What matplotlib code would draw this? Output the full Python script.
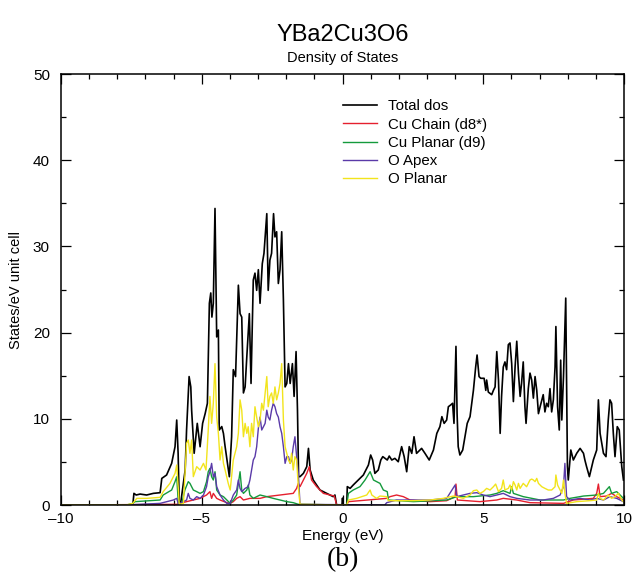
import matplotlib
matplotlib.use("Agg")
import matplotlib.pyplot as plt
from matplotlib.ticker import MultipleLocator

plt.rcParams['font.family'] = ['Liberation Sans', 'DejaVu Sans']

# ---- data (energy in eV, DOS in states/eV unit cell) ----
total_e = [-10.0, -7.67, -7.45, -7.41, -7.33, -7.19, -6.96, -6.72, -6.48, -6.42, -6.25, -6.07, -5.95, -5.89, -5.84,
           -5.80, -5.75, -5.59, -5.54, -5.45, -5.39, -5.36, -5.27, -5.16, -5.06, -4.97, -4.88, -4.80, -4.73, -4.68,
           -4.64, -4.59, -4.53, -4.47, -4.41, -4.38, -4.29, -4.23, -4.17, -4.02, -3.94, -3.88, -3.80, -3.70, -3.64,
           -3.58, -3.52, -3.46, -3.40, -3.31, -3.25, -3.17, -3.11, -3.05, -2.99, -2.93, -2.85, -2.79, -2.69, -2.64,
           -2.58, -2.52, -2.45, -2.40, -2.34, -2.28, -2.22, -2.16, -2.10, -2.04, -1.98, -1.92, -1.86, -1.78, -1.72,
           -1.65, -1.60, -1.56, -1.51, -1.39, -1.27, -1.21, -1.15, -1.04, -0.80, -0.56, -0.33, -0.27, -0.21, -0.02,
           0.00, 0.02, 0.15, 0.17, 0.27, 0.38, 0.50, 0.62, 0.74, 0.86, 0.92, 1.00, 1.07, 1.15, 1.27, 1.36, 1.43,
           1.51, 1.59, 1.66, 1.75, 1.86, 1.98, 2.10, 2.19, 2.28, 2.37, 2.46, 2.54, 2.63, 2.81, 2.93, 3.08, 3.23,
           3.35, 3.46, 3.53, 3.61, 3.70, 3.76, 3.84, 3.91, 3.96, 4.03, 4.07, 4.11, 4.17, 4.27, 4.35, 4.43, 4.53,
           4.65, 4.73, 4.78, 4.85, 4.91, 5.03, 5.09, 5.12, 5.18, 5.30, 5.36, 5.42, 5.48, 5.54, 5.60, 5.65, 5.71,
           5.77, 5.83, 5.89, 5.95, 6.01, 6.07, 6.13, 6.19, 6.25, 6.31, 6.36, 6.42, 6.48, 6.52, 6.60, 6.66, 6.72,
           6.78, 6.84, 6.90, 6.96, 7.02, 7.13, 7.19, 7.25, 7.31, 7.37, 7.43, 7.49, 7.55, 7.58, 7.64, 7.70, 7.75,
           7.79, 7.85, 7.93, 7.99, 8.02, 8.11, 8.20, 8.32, 8.44, 8.56, 8.61, 8.67, 8.77, 8.91, 9.03, 9.09, 9.15,
           9.27, 9.36, 9.44, 9.50, 9.56, 9.62, 9.68, 9.76, 9.83, 9.92, 9.98]
total_dos = [0.0, 0.0, 0.0, 1.35, 1.16, 1.27, 1.16, 1.35, 1.43, 3.09, 3.48, 4.83, 6.76, 9.86, 6.0,
             0.19, 0.19, 4.06, 8.7, 14.9, 13.7, 11.0, 6.0, 9.47, 6.76, 9.47, 10.6, 11.8, 23.4, 24.6,
             21.8, 23.4, 34.4, 19.5, 20.3, 8.7, 9.1, 8.3, 6.76, 3.28, 7.9, 15.7, 14.9, 25.5, 22.2,
             21.8, 13.0, 13.7, 17.2, 22.2, 14.1, 26.1, 26.9, 24.9, 27.3, 23.4, 28.0, 29.2, 33.8, 24.9,
             28.4, 29.2, 33.8, 31.1, 31.7, 25.7, 27.3, 31.7, 23.8, 13.7, 14.1, 16.4, 14.1, 16.4, 12.6,
             17.8, 11.0, 3.28, 3.29, 3.67, 4.45, 6.57, 4.06, 2.9, 1.74, 1.35, 0.97, 1.16, 0.0, 0.0,
             0.8, 0.0, 0.0, 2.13, 1.93, 2.32, 2.71, 3.09, 3.48, 4.25, 4.64, 5.80, 5.22, 3.67, 4.06, 5.22, 5.61,
             5.41, 5.22, 5.68, 5.22, 5.41, 5.02, 6.77, 5.61, 3.86, 6.77, 5.99, 7.92, 5.99, 6.57, 5.99, 5.22, 6.38,
             8.31, 9.09, 10.25, 9.47, 9.86, 11.4, 11.6, 11.8, 9.47, 18.4, 10.6, 6.77, 5.80, 6.38, 7.92, 9.47, 10.25,
             13.3, 16.0, 17.4, 14.9, 14.7, 14.7, 13.3, 14.5, 13.1, 12.8, 13.3, 13.7, 17.8, 14.5, 8.31, 12.6, 16.0,
             16.6, 15.7, 18.6, 18.8, 16.4, 12.0, 16.0, 19.0, 15.3, 12.6, 14.1, 16.6, 11.4, 9.47, 13.5, 15.3, 14.5,
             12.4, 14.9, 13.3, 10.6, 11.4, 12.8, 10.8, 11.8, 11.4, 13.5, 10.8, 12.2, 16.0, 20.7, 11.4, 8.70, 16.8,
             9.86, 14.9, 24.0, 4.45, 2.90, 6.38, 5.22, 6.0, 6.57, 6.0, 5.22, 4.45, 3.29, 5.22, 6.38, 12.2, 8.31,
             6.0, 5.61, 9.86, 12.2, 11.8, 8.31, 5.61, 9.09, 8.70, 4.45, 2.90]

cu_chain_e = [-10.0, -5.89, -5.54, -5.30, -5.06, -4.83, -4.71, -4.65, -4.59, -4.47, -4.35, -4.11, -3.99, -3.88,
              -3.76, -3.64, -3.52, -3.29, -2.93, -2.69, -2.22, -1.75, -1.63, -1.57, -1.51, -1.39, -1.27, -1.18,
              -1.10, -0.92, -0.68, -0.44, -0.29, -0.21, 0.15, 0.21, 1.57, 1.69, 1.92, 2.16, 2.40, 3.11, 3.70,
              4.00, 4.03, 4.08, 4.88, 5.48, 5.71, 6.19, 6.66, 7.85, 8.20, 8.91, 9.03, 9.09, 9.15, 9.38, 9.56,
              9.74, 9.98]
cu_chain_dos = [0.0, 0.08, 0.39, 0.58, 0.77, 1.16, 1.55, 0.77, 1.35, 0.77, 0.58, 0.27, 0.19, 0.39,
                0.77, 0.97, 0.58, 0.77, 0.77, 0.97, 1.16, 1.35, 1.93, 2.51, 2.13, 2.90, 3.67, 4.45,
                2.90, 2.13, 1.35, 1.16, 1.04, 0.0, 0.0, 0.39, 0.77, 0.97, 1.16, 0.97, 0.58, 0.39, 0.50,
                0.97, 2.43, 0.58, 0.39, 0.58, 0.77, 0.58, 0.27, 0.19, 0.58, 0.77, 1.35, 2.43, 0.97, 1.04, 1.35,
                0.97, 0.58]

cu_planar_e = [-10.0, -7.67, -7.45, -7.37, -6.48, -6.37, -6.07, -5.95, -5.89, -5.83, -5.71, -5.60, -5.48, -5.42,
               -5.36, -5.30, -5.18, -5.06, -4.94, -4.83, -4.77, -4.71, -4.65, -4.59, -4.53, -4.47, -4.35, -4.23,
               -4.11, -3.99, -3.88, -3.76, -3.70, -3.64, -3.58, -3.52, -3.40, -3.35, -3.29, -3.17, -2.93, -2.69,
               -2.46, -2.22, -1.98, -1.75, -1.57, 0.15, 0.21, 0.38, 0.62, 0.80, 0.98, 1.10, 1.33, 1.45, 1.59,
               1.63, 2.52, 3.70, 4.06, 4.65, 5.24, 5.48, 5.71, 5.95, 6.01, 6.07, 6.42, 7.02, 7.85, 8.08, 8.56,
               9.03, 9.27, 9.48, 9.56, 9.74, 9.86, 9.98]
cu_planar_dos = [0.0, 0.0, 0.19, 0.39, 0.58, 1.16, 1.74, 2.71, 3.28, 0.08, 0.19, 1.74, 2.71, 2.51,
                 2.12, 1.74, 1.55, 1.35, 1.55, 2.71, 3.86, 4.25, 3.28, 2.90, 3.86, 1.74, 1.16, 0.97,
                 0.58, 0.19, 0.58, 1.16, 2.51, 3.86, 1.74, 1.35, 1.74, 2.32, 1.16, 0.77, 1.16, 0.97,
                 0.77, 0.58, 0.39, 0.27, 0.08, 0.0, 1.35, 1.74, 2.13, 2.90, 3.87, 2.90, 2.51, 1.74, 1.55,
                 0.58, 0.39, 0.58, 0.97, 0.97, 1.16, 1.35, 1.66, 1.35, 2.13, 1.35, 0.97, 0.58, 0.58, 0.77, 1.04,
                 1.16, 1.35, 2.13, 1.35, 1.55, 1.16, 0.77]

o_apex_e = [-10.0, -7.67, -6.48, -6.01, -5.89, -5.83, -5.65, -5.54, -5.48, -5.42, -5.30, -5.18, -5.06, -4.94,
            -4.83, -4.77, -4.71, -4.65, -4.59, -4.53, -4.47, -4.35, -4.23, -4.11, -3.99, -3.88, -3.76, -3.70,
            -3.64, -3.58, -3.46, -3.35, -3.29, -3.23, -3.17, -3.11, -3.05, -2.99, -2.93, -2.87, -2.81, -2.75,
            -2.69, -2.64, -2.58, -2.52, -2.46, -2.40, -2.34, -2.28, -2.22, -2.16, -2.10, -2.04, -1.98, -1.92,
            -1.86, -1.81, -1.75, -1.69, -1.63, -1.57, -1.51, 1.50, 1.57, 1.92, 3.11, 3.70, 4.00, 4.06, 4.29,
            4.53, 4.77, 5.00, 5.24, 5.48, 5.71, 5.95, 6.19, 6.66, 7.13, 7.49, 7.73, 7.85, 7.90, 7.96, 8.08,
            8.44, 8.79, 9.03, 9.27, 9.50, 9.74, 9.98]
o_apex_dos = [0.0, 0.0, 0.19, 0.58, 0.77, 0.08, 0.39, 0.58, 1.35, 0.77, 0.58, 0.97, 0.77, 1.16,
              2.13, 3.28, 3.86, 4.83, 3.28, 3.67, 2.13, 1.16, 0.58, 0.19, 0.19, 1.16, 1.74, 2.90,
              1.93, 1.55, 1.93, 2.13, 2.90, 4.06, 5.22, 5.61, 6.76, 8.89, 10.2, 8.70, 9.08, 9.47,
              11.0, 10.2, 9.86, 11.0, 11.8, 11.4, 10.6, 10.2, 9.08, 8.31, 6.76, 4.83, 5.61, 5.61,
              4.83, 5.22, 6.76, 7.92, 5.61, 3.67, 0.08, 0.0, 0.27, 0.58, 0.58, 0.77, 2.32, 0.97, 1.16,
              1.35, 1.43, 1.16, 0.97, 1.16, 1.35, 0.97, 0.77, 0.58, 0.58, 0.77, 1.16, 2.13, 4.83, 0.97, 0.58,
              0.77, 0.58, 0.77, 0.58, 0.97, 0.77, 0.39]

o_planar_e = [-10.0, -7.67, -7.45, -7.31, -6.96, -6.48, -6.37, -6.13, -5.95, -5.89, -5.83, -5.80, -5.65, -5.54,
              -5.48, -5.42, -5.36, -5.30, -5.18, -5.06, -4.94, -4.85, -4.77, -4.71, -4.65, -4.59, -4.53, -4.47,
              -4.41, -4.35, -4.29, -4.23, -4.17, -4.06, -3.99, -3.94, -3.88, -3.76, -3.70, -3.64, -3.58, -3.52,
              -3.46, -3.40, -3.35, -3.29, -3.23, -3.17, -3.11, -3.05, -2.99, -2.93, -2.87, -2.81, -2.75, -2.69,
              -2.64, -2.58, -2.52, -2.46, -2.40, -2.34, -2.28, -2.22, -2.16, -2.10, -2.04, -1.98, -1.92, -1.86,
              -1.81, -1.75, -1.69, -1.63, -1.57, -1.51, 0.15, 0.21, 0.50, 0.86, 0.98, 1.04, 1.21, 1.33, 1.57,
              1.63, 2.52, 3.11, 3.58, 3.94, 4.06, 4.29, 4.53, 4.65, 4.77, 4.88, 5.00, 5.12, 5.24, 5.36, 5.44,
              5.54, 5.65, 5.71, 5.77, 5.89, 5.95, 6.01, 6.07, 6.13, 6.19, 6.25, 6.31, 6.42, 6.54, 6.66, 6.72,
              6.78, 6.84, 6.90, 6.96, 7.08, 7.19, 7.31, 7.43, 7.55, 7.58, 7.64, 7.73, 7.79, 7.85, 7.90, 7.96,
              8.32, 8.79, 9.03, 9.09, 9.15, 9.27, 9.44, 9.56, 9.68, 9.80, 9.92, 9.98]
o_planar_dos = [0.0, 0.0, 0.19, 0.77, 0.77, 0.89, 1.55, 2.51, 3.67, 4.64, 1.74, 0.08, 0.19, 7.15,
                7.54, 6.0, 7.54, 3.29, 4.45, 4.06, 4.83, 4.06, 8.70, 12.6, 9.47, 11.8, 16.4, 10.2,
                8.31, 5.22, 6.76, 4.83, 4.06, 2.51, 1.74, 3.28, 5.22, 6.76, 8.31, 12.2, 11.0, 7.92,
                9.47, 8.31, 9.08, 6.76, 9.47, 7.92, 11.4, 10.2, 9.08, 9.86, 11.8, 11.0, 13.0, 14.9,
                11.4, 12.6, 13.0, 11.8, 13.7, 12.2, 13.0, 14.1, 16.4, 9.86, 6.76, 6.0, 5.22, 4.83,
                6.0, 4.06, 5.61, 5.22, 2.12, 0.08, 0.0, 0.58, 0.77, 1.16, 1.74, 1.16, 0.77, 1.04, 0.97,
                0.50, 0.50, 0.58, 0.77, 1.04, 0.97, 0.77, 1.16, 1.66, 1.74, 1.35, 1.55, 1.93, 1.74, 2.12, 2.43,
                1.55, 1.93, 2.90, 1.74, 1.93, 2.32, 1.74, 2.71, 2.32, 1.74, 2.51, 1.93, 2.51, 2.12, 2.90, 3.01,
                2.90, 2.71, 3.09, 2.51, 2.12, 1.93, 1.74, 1.74, 2.12, 3.48, 2.32, 1.74, 1.35, 2.90, 1.35, 0.19,
                0.39, 0.50, 0.58, 1.35, 0.77, 0.58, 1.16, 0.77, 0.97, 1.35, 0.58, 0.39]

series = [
    ("Total dos", total_e, total_dos, "#000000", 1.2),
    ("Cu Chain (d8*)", cu_chain_e, cu_chain_dos, "#e5202e", 1.0),
    ("Cu Planar (d9)", cu_planar_e, cu_planar_dos, "#149a3c", 1.0),
    ("O Apex", o_apex_e, o_apex_dos, "#5a3aa8", 1.0),
    ("O Planar", o_planar_e, o_planar_dos, "#f2e41c", 1.0),
]

fig = plt.figure(figsize=(6.33, 5.80), dpi=100)
ax = fig.add_axes([0.0964, 0.1293, 0.8894, 0.7431])

for label, e, d, c, lw in series:
    ax.plot(e, d, color=c, lw=lw, label=label)

ax.set_xlim(-10, 10)
ax.set_ylim(0, 50)
ax.set_xticks([-10, -5, 0, 5, 10])
ax.set_xticklabels(['\u201310', '\u20135', '0', '5', '10'])
ax.xaxis.set_minor_locator(MultipleLocator(1))
ax.yaxis.set_major_locator(MultipleLocator(10))
ax.yaxis.set_minor_locator(MultipleLocator(5))
ax.tick_params(which='both', direction='in', top=True, right=True, labelsize=11, width=0.9)
ax.tick_params(which='major', length=7)
ax.tick_params(which='minor', length=3.5)
ax.tick_params(axis='y', pad=8)
ax.tick_params(axis='x', pad=5)
for s in ax.spines.values():
    s.set_linewidth(1.1)

ax.set_xlabel('Energy (eV)', fontsize=11, labelpad=2)
ax.set_ylabel('States/eV unit cell', fontsize=10.5, labelpad=7)

leg = ax.legend(loc='upper left', bbox_to_anchor=(0.49, 0.955), frameon=False, fontsize=10.8,
                handlelength=2.3, handletextpad=0.7, labelspacing=0.28, borderaxespad=0)

fig.text(0.541, 1.022, '(a)', ha='center', va='center', fontsize=20, family='Liberation Serif')
fig.text(0.541, 0.940, 'YBa2Cu3O6', ha='center', va='center', fontsize=17)
fig.text(0.541, 0.900, 'Density of States', ha='center', va='center', fontsize=10.5)
fig.text(0.541, 0.036, '(b)', ha='center', va='center', fontsize=20, family='Liberation Serif')

fig.savefig('out.png', dpi=100)
